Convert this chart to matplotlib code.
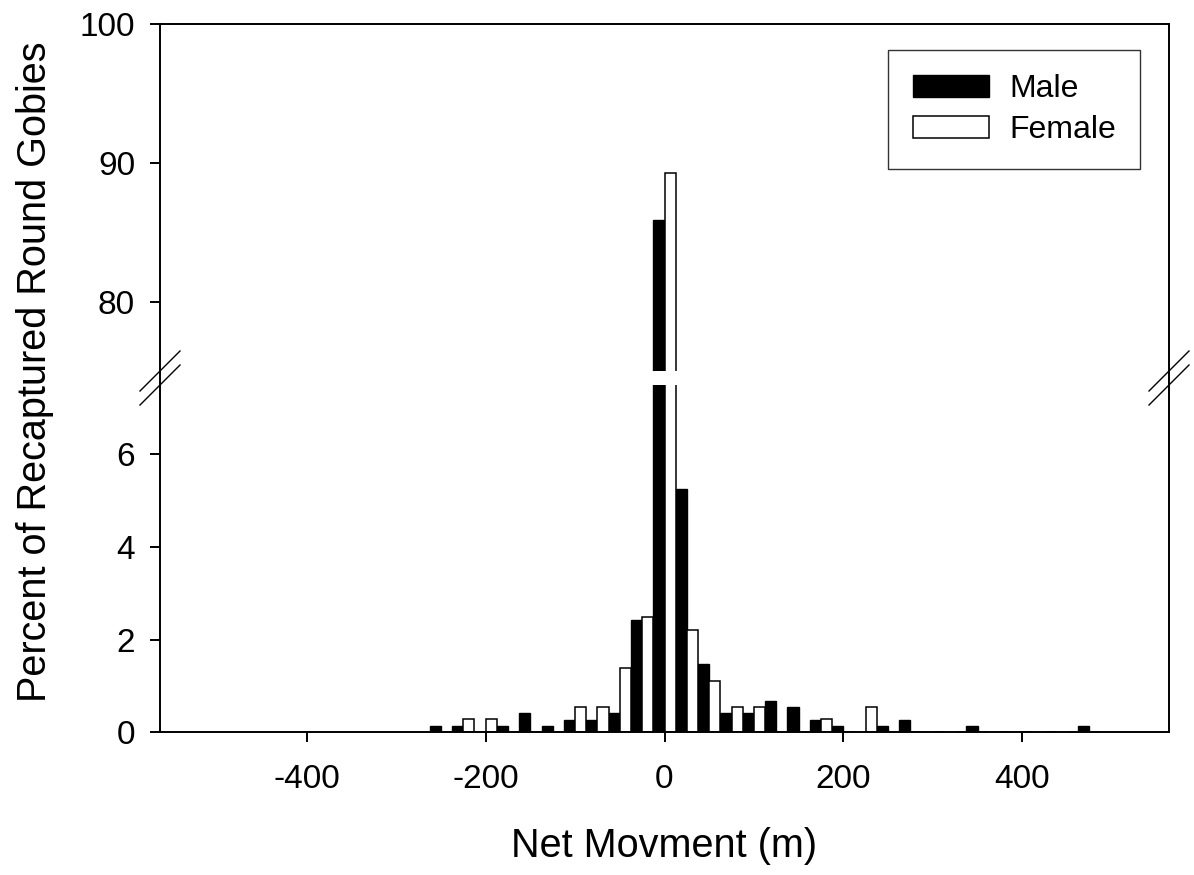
import matplotlib
matplotlib.use('Agg')
import matplotlib.pyplot as plt
from matplotlib.lines import Line2D

plt.rcParams['font.family'] = ['Liberation Sans', 'DejaVu Sans']
plt.rcParams['axes.unicode_minus'] = False

# bin centres (m), male bar sits left of centre, female right
centers = [-250, -225, -200, -175, -150, -125, -100, -75, -50, -25, 0, 25, 50, 75, 100,
           125, 150, 175, 200, 225, 250, 275, 300, 325, 350, 375, 400, 425, 450, 475]
male = [0.14, 0.14, 0, 0.14, 0.41, 0.14, 0.27, 0.27, 0.41, 2.42, 85.9, 5.25, 1.48, 0.41, 0.41,
        0.68, 0.55, 0.27, 0.14, 0, 0.14, 0.27, 0, 0, 0.14, 0, 0, 0, 0, 0.14]
female = [0, 0.28, 0.28, 0, 0, 0, 0.55, 0.55, 1.38, 2.48, 89.3, 2.2, 1.1, 0.55, 0.55,
          0, 0, 0.28, 0, 0.55, 0, 0, 0, 0, 0, 0, 0, 0, 0, 0]
bin_w = 25
xticks = [-400, -200, 0, 200, 400]
low_ticks = [0, 2, 4, 6]
high_ticks = [80, 90, 100]

W, H = 1194, 875
fig = plt.figure(figsize=(W / 100, H / 100), dpi=100)

left, right = 160 / W, 1169 / W
y_top, y_gap_hi, y_gap_lo, y_bot = 24, 371, 385, 732.3
ax_hi = fig.add_axes([left, 1 - y_gap_hi / H, right - left, (y_gap_hi - y_top) / H])
ax_lo = fig.add_axes([left, 1 - y_bot / H, right - left, (y_bot - y_gap_lo) / H])

lw = 1.4
for ax in (ax_hi, ax_lo):
    m_x = [c - bin_w / 2 for c in centers]
    ax.bar(m_x, male, width=bin_w / 2, align='edge', color='black', edgecolor='black',
           linewidth=1.0, label='Male')
    ax.bar(centers, female, width=bin_w / 2, align='edge', color='white', edgecolor='black',
           linewidth=1.1, label='Female')
    ax.set_xlim(-564, 564)
    for s in ax.spines.values():
        s.set_linewidth(lw)
    ax.tick_params(direction='out', length=7, width=lw, labelsize=24)
    ax.tick_params(axis='y', pad=11)
    ax.tick_params(axis='x', pad=16)

ax_hi.set_ylim(75, 100)
ax_hi.set_yticks(high_ticks)
ax_hi.spines['bottom'].set_visible(False)
ax_hi.tick_params(axis='x', bottom=False, labelbottom=False)

ax_lo.set_ylim(0, 7.5)
ax_lo.set_yticks(low_ticks)
ax_lo.set_xticks(xticks)
ax_lo.spines['top'].set_visible(False)

# continue side spines through the break and add break marks
def px(x, y):
    return x / W, 1 - y / H

for xs in (160, 1169):
    fig.add_artist(Line2D(*zip(px(xs, y_gap_hi), px(xs, y_gap_lo)), color='black', linewidth=lw))
    for yb in (y_gap_hi, y_gap_lo):
        fig.add_artist(Line2D(*zip(px(xs - 20, yb + 20), px(xs + 20, yb - 20)),
                              color='black', linewidth=1.0))

fig.text(px(664.5, 0)[0], px(0, 846)[1], 'Net Movment (m)', ha='center', va='center', fontsize=28.5)
fig.text(px(35, 0)[0], px(0, 372)[1], 'Percent of Recaptured Round Gobies', ha='center',
         va='center', rotation=90, fontsize=28.5)

leg = ax_hi.legend(loc='upper right', bbox_to_anchor=px(1140, 50), bbox_transform=fig.transFigure,
                   borderaxespad=0, fontsize=23, frameon=True, fancybox=False, edgecolor='black',
                   handlelength=2.4, handleheight=0.69, handletextpad=0.62, borderpad=0.76,
                   labelspacing=0.33)
leg.get_frame().set_linewidth(1.0)

fig.savefig('out.png', dpi=100)
